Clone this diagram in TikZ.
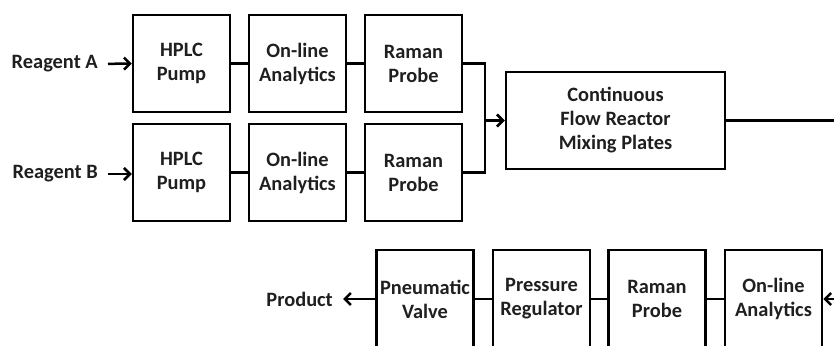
\documentclass[tikz,border=0pt]{standalone}
\usepackage{fontspec}
\setmainfont{Carlito}
\usetikzlibrary{arrows.meta}
\begin{document}
\begin{tikzpicture}[x=1pt,y=-1pt,
  font=\bfseries\fontsize{20.4}{24}\selectfont,
  unit/.style={draw,line width=2.5pt,minimum width=97pt,minimum height=97pt,
    inner sep=0pt,align=center,text=black!88},
  lbl/.style={inner sep=0pt,text=black!88},
  pipe/.style={line width=2.5pt},
  arr/.style={line width=2.5pt,-{Straight Barb[length=6pt,width=12pt,line width=2.5pt]}}]
\useasboundingbox (0,0) rectangle (834,345);
\clip (0,0) rectangle (834,345);

% feed line A
\node[unit] (pa) at (181.5,63.5) {HPLC\\Pump};
\node[unit] (aa) at (297.5,63.5) {On-line\\Analytics};
\node[unit] (ra) at (413.5,63.5) {Raman\\Probe};
% feed line B
\node[unit] (pb) at (181.5,172.5) {HPLC\\Pump};
\node[unit] (ab) at (297.5,172.5) {On-line\\Analytics};
\node[unit] (rb) at (413.5,172.5) {Raman\\Probe};
% reactor
\node[unit,minimum width=219pt] (rx) at (615.5,120.5) {Continuous\\Flow Reactor\\Mixing Plates};
% return line
\node[unit,minimum height=98pt] (pv) at (425,299) {Pneumatic\\Valve};
\node[unit,minimum height=98pt] (pr) at (541.5,299) {Pressure\\Regulator};
\node[unit,minimum height=98pt] (rc) at (657,299) {Raman\\Probe};
\node[unit,minimum height=98pt] (ac) at (773.5,299) {On-line\\Analytics};

% labels
\node[lbl,anchor=east] (rga) at (98,64) {Reagent A};
\node[lbl,anchor=east] (rgb) at (98,174) {Reagent B};
\node[lbl,anchor=east] (prod) at (333,299) {Product};

% connections
\draw[arr,shorten <=10pt] (rga.east) -- (pa.west);
\draw[arr,shorten <=10pt] (rgb.east) -- (pb.west|-rgb.east);
\draw[pipe] (pa) -- (aa) (aa) -- (ra);
\draw[pipe] (pb) -- (ab) (ab) -- (rb);
\coordinate (mx) at (485,120.5);
\draw[pipe] (ra.east) -| (mx) |- (rb.east);
\draw[arr] (mx) -- (rx.west);
\coordinate (outR) at (845,120.5);
\draw[pipe] (rx.east) -- (outR);
\coordinate (inR) at (845,299);
\draw[arr] (inR) -- (ac.east);
\draw[pipe] (ac) -- (rc) (rc) -- (pr) (pr) -- (pv);
\draw[arr,shorten >=10pt] (pv.west) -- (prod.east);
\end{tikzpicture}
\end{document}
